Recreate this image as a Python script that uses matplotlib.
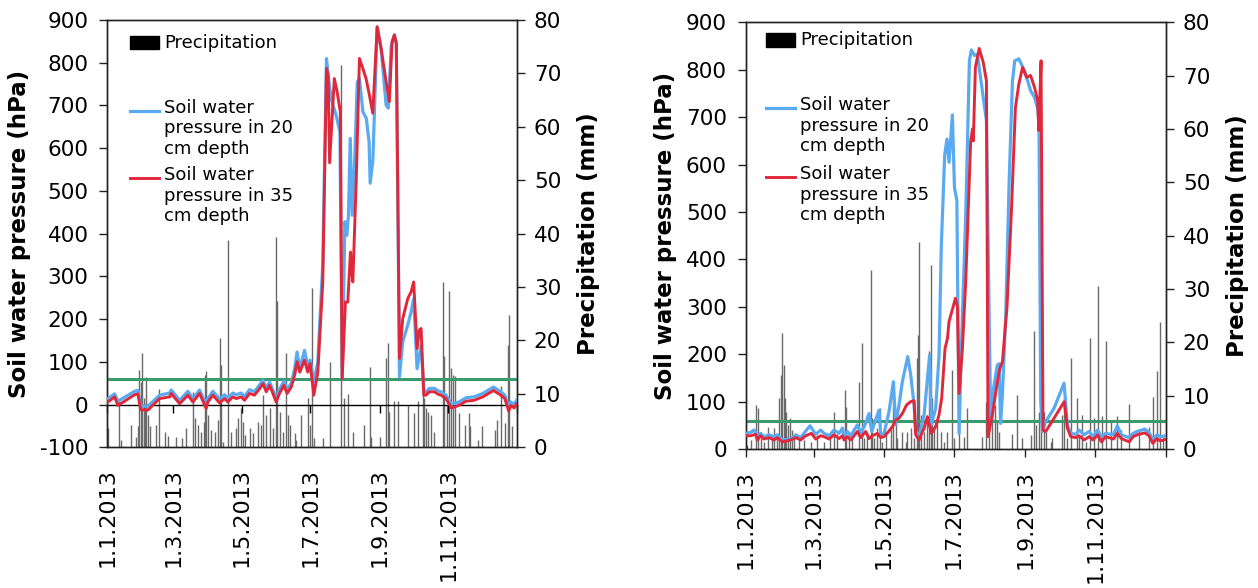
import matplotlib
matplotlib.use('Agg')
import matplotlib.pyplot as plt
from matplotlib.patches import Rectangle

# ---------------- data ----------------
tick_days = [0, 59, 120, 181, 243, 304, 365]
tick_labels = ['1.1.2013', '1.3.2013', '1.5.2013', '1.7.2013', '1.9.2013', '1.11.2013', '']
threshold = 60  # hPa

# left panel: soil water pressure (day of year, hPa)
left_35 = [(0.6, 6), (6.5, 18), (9.5, -2), (24.4, 23), (27.3, 25), (29.7, -12), (36.2, -13), (46.6, 14),
           (55.6, 18), (57, 26), (64.5, 2), (71.9, 22), (76.4, 6), (82.3, 26), (88.2, -9), (89.7, 6),
           (94.2, 22), (100.1, 4), (104.6, 14), (107.5, 6), (112, 18), (115, 14), (119.4, 18), (122.4, 10),
           (126.9, 26), (131.3, 22), (135.8, 37), (138.8, 49), (141.8, 30), (144.7, 45), (147.7, 26),
           (150.6, 6), (153.6, 26), (157.5, 45), (160.4, 26), (164.1, 41), (167.1, 69), (169.3, 100),
           (171.7, 76), (175.9, 104), (178.8, 76), (180.9, 96), (184.2, 22), (187.8, 76), (192.2, 287),
           (195.5, 787), (197.0, 770), (198.3, 566), (202.5, 763), (205, 732), (207.8, 686), (209.5, 61),
           (212.4, 240), (214.5, 240), (216.9, 357), (218.1, 310), (219, 287), (222, 521), (224.9, 810),
           (227.9, 787), (230.8, 763), (233.8, 724), (236.8, 682), (240.7, 884), (244.2, 834), (248.7, 756),
           (251.6, 709), (254, 849), (256.1, 865), (257.8, 845), (260.6, 108), (263.5, 201), (268, 248),
           (271, 264), (273.3, 287), (276.3, 131), (278.4, 175), (279.9, 178), (282.3, 22), (284.3, 22),
           (287.3, 30), (291.7, 30), (295.2, 24), (297.7, 22), (302.1, 14), (306.9, -8), (313.6, -2),
           (320, 8), (327, 10), (335, 18), (344.4, 33), (351, 22), (354.6, 14), (358, -15), (360, -2),
           (363, -8), (365, 2)]

left_20 = [(0.6, 14), (6.5, 25), (9.5, 8), (24.4, 31), (27.3, 33), (29.7, -3), (36.2, -4), (46.6, 22),
           (55.6, 27), (57, 34), (64.5, 10), (71.9, 31), (76.4, 14), (82.3, 34), (88.2, 0), (89.7, 14),
           (94.2, 31), (100.1, 13), (104.6, 23), (107.5, 15), (112, 27), (115, 23), (119.4, 27), (122.4, 19),
           (126.9, 35), (131.3, 30), (135.8, 46), (138.8, 57), (141.8, 38), (144.7, 53), (147.7, 34),
           (150.6, 14), (153.6, 35), (157.5, 55), (160.4, 35), (164.1, 50), (167.1, 84), (169.3, 123),
           (171.7, 84), (175.9, 127), (178.8, 90), (180.9, 104), (184.2, 53), (187.8, 100), (192.2, 330),
           (195.5, 810), (197.5, 760), (199.6, 716), (204.1, 677), (207.5, 638), (209.5, 65), (211.9, 428),
           (213.6, 396), (215.1, 443), (216.7, 623), (218.4, 443), (220.5, 560), (223.0, 755), (224.9, 763),
           (228, 685), (231, 670), (233.5, 615), (234.5, 518), (236.9, 572), (240.7, 884), (244.2, 834),
           (248.7, 701), (250.6, 694), (253.3, 840), (256.1, 865), (257.8, 845), (260.6, 65), (263.5, 147),
           (268, 186), (271, 217), (273.3, 248), (276.3, 84), (279.9, 139), (282.3, 30), (284.3, 30),
           (287.3, 38), (291.7, 38), (295.2, 32), (297.7, 30), (302.1, 22), (306.9, 0), (313.6, 6),
           (320, 16), (327, 18), (335, 26), (344.4, 41), (351, 30), (354.6, 22), (358, -7), (360, 6),
           (363, 0), (365, 10)]

# left panel: precipitation (day of year, mm)
left_rain = [(0.6, 3.7), (10.4, 8.6), (12.5, 1.4), (20.8, 4.2), (25.8, 2), (27.3, 4), (28.2, 14.5),
             (29.7, 12.3), (31.2, 17.7), (32.4, 9.2), (33.3, 7.9), (34.8, 13.2), (36.2, 6), (37.7, 4),
             (43.1, 4.2), (45.8, 11), (51.1, 2.9), (54.1, 2.2), (61.5, 2), (66.8, 1.7), (70.4, 3.6),
             (76.4, 10.4), (77.8, 5.4), (80.8, 4.2), (83.8, 2.9), (85.9, 4.8), (86.8, 13.5), (88.2, 14.2),
             (89.7, 6), (92.7, 3.2), (95.7, 2.9), (98.7, 5.1), (100.1, 20.4), (101.6, 15.4), (103.1, 1),
             (108.1, 38.8), (110.5, 2.9), (115, 3.6), (116.5, 5.5), (119.4, 7.3), (120.9, 4.8), (122.4, 2.3),
             (127.1, 3.6), (130.1, 2.6), (134.5, 4.8), (137.5, 4.2), (139, 9.8), (142, 6), (144.9, 7.3),
             (147.9, 3.6), (150.3, 39.3), (151.5, 27.3), (153.8, 6.7), (156.8, 2.9), (159.8, 17.6),
             (161.3, 6), (162.8, 4.2), (167.2, 2.6), (168.7, 1.4), (173.2, 6), (179.1, 9.2), (180.6, 4.2),
             (183, 29.8), (184.5, 1.7), (192.5, 1.7), (198.5, 16), (208.6, 71.6), (211, 9.2), (215.1, 10),
             (219, 2.9), (229.4, 4.2), (233.9, 15.1), (235.3, 2), (242.8, 2), (248.7, 16.7), (250.2, 19.5),
             (251.7, 6.7), (256.1, 8.6), (259.1, 8.6), (268, 8), (274, 6.4), (276.9, 8.6), (281.4, 14.8),
             (282.9, 9.2), (284.4, 7.3), (285.9, 6.7), (288.8, 6), (291.8, 2.9), (299.2, 31), (300.7, 17),
             (302.8, 7.9), (305.2, 29.2), (306.7, 14.8), (308.6, 13.6), (310.3, 13.3), (313.7, 6.4),
             (318.8, 4.2), (322.2, 6.4), (323.9, 3.9), (330.7, 1.4), (334.1, 3.9), (346.1, 3.2),
             (347.8, 5.1), (351.2, 11.4), (354.6, 4.5), (357.3, 19.2), (358.7, 24.8), (360.7, 3.9)]

# right panel: soil water pressure (day of year, hPa)
right_35 = [(0, 28), (4.3, 28), (8.7, 31), (10.1, 19), (13, 28), (15.9, 21), (20.3, 24), (24.6, 19),
            (27.5, 24), (31.9, 15), (39.1, 19), (43.5, 24), (47.8, 19), (52.2, 28), (57.1, 33), (60.9, 21),
            (65.2, 28), (68.1, 26), (72.5, 21), (76.8, 30), (81.2, 22), (84.1, 28), (85.5, 19), (88.4, 26),
            (91.3, 19), (97.1, 37), (100, 24), (104.3, 37), (107.2, 22), (110.1, 28), (114.5, 33),
            (117.4, 24), (120.3, 26), (124.6, 38), (127.5, 47), (130.4, 61), (133.3, 65), (136.2, 75),
            (139.9, 93), (143.5, 100), (146.4, 102), (147.8, 30), (150.7, 19), (155.1, 44), (158, 68),
            (161.4, 33), (165.2, 47), (168.1, 72), (170.4, 107), (173.3, 212), (175.4, 233), (176.8, 269),
            (180, 297), (182.3, 318), (184.1, 300), (185.5, 117), (188.4, 212), (191.3, 353), (195.6, 650),
            (197.2, 675), (197.9, 650), (199.7, 805), (203, 845), (206.5, 816), (209.3, 777), (210.7, 26),
            (214.5, 72), (218.8, 142), (221, 170), (223.2, 184), (227.2, 300), (231, 500), (234.5, 720),
            (237.5, 770), (240.7, 805), (244.3, 784), (247.7, 788), (251.1, 763), (253.9, 735),
            (254.8, 672), (256.8, 819), (258.5, 40), (260.9, 37), (268.1, 65), (277, 100), (279.7, 44),
            (282.6, 26), (287, 24), (289.9, 28), (294.2, 19), (298.6, 26), (302, 19), (306, 30),
            (309.4, 15), (312.9, 26), (319.7, 21), (323.1, 33), (326.6, 22), (333.4, 15), (336.8, 26),
            (340.3, 30), (347.1, 34), (350.6, 28), (354, 12), (357.5, 22), (360.5, 17), (365, 20)]

right_20 = [(0, 33), (4.3, 35), (7.2, 40), (10.1, 28), (13, 33), (15.9, 26), (20.3, 30), (24.6, 26),
            (27.5, 30), (31.9, 19), (39.1, 21), (43.5, 30), (47.8, 24), (52.2, 38), (55.9, 49), (60.9, 31),
            (65.2, 40), (68.1, 33), (72.5, 28), (76.8, 40), (81.2, 33), (84.1, 44), (85.5, 26), (88.4, 37),
            (91.3, 28), (97.1, 51), (100, 33), (104.3, 54), (107.2, 75), (109.6, 37), (114.5, 72),
            (116, 82), (117.4, 30), (120.3, 33), (124.6, 79), (128.4, 142), (130.4, 51), (133.3, 93),
            (136.2, 142), (140.9, 195), (143.5, 156), (146.4, 93), (147.8, 37), (150.7, 26), (155.1, 72),
            (159.9, 198), (161.4, 51), (165.2, 86), (168.1, 198), (170, 423), (173, 620), (175, 654),
            (176.8, 605), (179.7, 705), (181.5, 552), (183.6, 524), (185.5, 33), (188.4, 283), (191.3, 494),
            (194.5, 819), (196.2, 842), (199, 830), (201.4, 833), (206.5, 742), (209.3, 693), (213, 58),
            (214.5, 114), (218.8, 177), (220.3, 180), (221.6, 54), (223.2, 114), (226.1, 283), (229, 560),
            (231.9, 775), (233.9, 819), (237.4, 823), (242.5, 798), (247.7, 756), (251.1, 742),
            (253.9, 717), (255, 690), (256.5, 100), (258, 37), (260.9, 58), (268.1, 86), (276.8, 139),
            (279.7, 51), (282.6, 33), (287, 31), (289.9, 40), (294.2, 30), (298.6, 37), (302, 26), (306, 40),
            (309.4, 24), (312.9, 33), (319.7, 30), (323.1, 49), (326.6, 30), (333.4, 24), (336.8, 33),
            (340.3, 37), (347.1, 42), (350.6, 35), (354, 20), (357.5, 30), (360.5, 26), (365, 28)]

right_rain = [(1.4, 0.8), (4.3, 1.7), (9.3, 8.3), (10.7, 7.6), (13, 2), (15.9, 1.4), (19.7, 4.2),
              (23.2, 2.6), (24.6, 3.9), (27.5, 2.3), (29, 9.5), (30.4, 13.9), (31.9, 21.7), (33.3, 15.8),
              (34.2, 9.5), (35.4, 7), (36.8, 4.5), (38.3, 5.8), (40.6, 3.6), (42, 2), (46.4, 2.3),
              (50.7, 1.7), (56.5, 1.4), (62.3, 2.6), (68.1, 1.4), (73.3, 2), (76.8, 7), (79.7, 2.9),
              (86.1, 11), (87.5, 7.9), (89.5, 3.2), (92.8, 2), (98.6, 12.6), (100.9, 19.8), (102.9, 2),
              (105.8, 3.2), (108.7, 33.6), (110.1, 5.8), (111.6, 2), (114.5, 3.9), (116.8, 7.6), (118.8, 1.4),
              (121.7, 3.2), (126.1, 3.9), (128.4, 12.6), (130.4, 5.1), (131.9, 2), (136.2, 3.2), (139.1, 1.4),
              (140.6, 3.2), (143.5, 3.9), (146.4, 2), (148.7, 17), (149.9, 21.4), (151, 38.9), (152.2, 6.4),
              (155.1, 3.2), (158, 6.4), (159.4, 18.3), (160.9, 34.5), (162.3, 9.5), (163.8, 4.5),
              (166.7, 5.1), (169.6, 3.2), (172.5, 1.4), (175.4, 3.2), (179.7, 14.8), (181.2, 2), (185.5, 6.4),
              (189.9, 2.3), (192.8, 7.6), (205.8, 2.3), (208.7, 8.9), (211.6, 5.1), (214.5, 10.1),
              (216.5, 8.3), (218.8, 5.1), (220.3, 3.2), (231.9, 2.9), (235.7, 10.1), (240.6, 2), (247.8, 2.6),
              (250.7, 22.1), (252.2, 4.5), (255.1, 7), (257.1, 6.4), (259.4, 7), (260.9, 3.2), (265.2, 1.4),
              (266.7, 2), (274.6, 6.4), (276.8, 9.5), (279.7, 2), (282.6, 17.1), (287.8, 9.6), (289.9, 2.6),
              (292.8, 6.4), (295.7, 1.4), (299.1, 20.8), (302.5, 5.9), (306.7, 30.6), (309.4, 6.1),
              (312.9, 20.3), (318, 5.5), (323.1, 6.1), (326.6, 3.6), (333.4, 8.5), (342, 3.6), (350.6, 4.2),
              (354, 9.8), (357.5, 14.7), (360.2, 23.8), (362.6, 2.3)]

label_precip = 'Precipitation'
label_20 = 'Soil water\npressure in 20\ncm depth'
label_35 = 'Soil water\npressure in 35\ncm depth'
ylabel_left = 'Soil water pressure (hPa)'
ylabel_right = 'Precipitation (mm)'

# ---------------- style ----------------
BLUE = '#5aaaf2'
RED = '#e0283a'
GREEN = '#3a9a6c'
BAR = '#6a6a6a'
TICK_FS = 15.5
LAB_FS = 16.5
LEG_FS = 13

plt.rcParams['font.family'] = ['DejaVu Sans']
plt.rcParams['axes.unicode_minus'] = False

W, H = 1258, 588
fig = plt.figure(figsize=(W / 100, H / 100), dpi=100)


def panel(px_left, px_top, px_w, px_h, ylim, yticks, s20, s35, rain, zero_axis, xpad,
          leg, ylab_x, ylab2_x):
    ax = fig.add_axes([px_left / W, 1 - (px_top + px_h) / H, px_w / W, px_h / H])
    ax2 = ax.twinx()
    ax.set_zorder(ax2.get_zorder() + 1)
    ax.patch.set_visible(False)

    # precipitation bars
    rd, rv = zip(*rain)
    ax2.vlines(rd, 0, rv, color=BAR, lw=1.0)
    ax2.set_ylim(0, 80)
    ax2.set_yticks(range(0, 81, 10))

    # threshold and soil water pressure lines
    ax.axhline(threshold, color=GREEN, lw=2.2, zorder=2)
    d20, v20 = zip(*s20)
    d35, v35 = zip(*s35)
    ax.plot(d20, v20, color=BLUE, lw=2.3, zorder=3, solid_joinstyle='round')
    ax.plot(d35, v35, color=RED, lw=2.1, zorder=4, solid_joinstyle='round')

    ax.set_xlim(0, 365)
    ax.set_ylim(*ylim)
    ax.set_yticks(yticks)
    ax.set_xticks(tick_days)
    ax.set_xticklabels(tick_labels, rotation=90, fontsize=16)

    for a in (ax, ax2):
        for s in a.spines.values():
            s.set_color('#222222')
            s.set_linewidth(1.0)
    ax.tick_params(axis='y', labelsize=TICK_FS, length=5.5, width=1, pad=8, colors='#222222',
                   labelcolor='black')
    ax2.tick_params(axis='y', labelsize=TICK_FS, length=5.5, width=1, pad=7, colors='#222222',
                    labelcolor='black')

    if zero_axis:
        ax.tick_params(axis='x', length=0, pad=xpad)
        sec = ax.secondary_xaxis((0 - ylim[0]) / (ylim[1] - ylim[0]))
        sec.set_xticks(tick_days)
        sec.set_xticklabels([''] * len(tick_days))
        sec.tick_params(axis='x', length=5.5, width=1, direction='out', colors='black')
        sec.spines['bottom'].set_color('black')
        sec.spines['bottom'].set_linewidth(1.0)
    else:
        ax.tick_params(axis='x', length=5.5, width=1, pad=xpad, colors='#222222', labelcolor='black')

    ax.set_ylabel(ylabel_left, fontsize=LAB_FS, fontweight='bold')
    ax.yaxis.set_label_coords(ylab_x, 0.5)
    ax2.set_ylabel(ylabel_right, fontsize=LAB_FS, fontweight='bold')
    ax2.yaxis.set_label_coords(ylab2_x, 0.5)

    # legend (drawn in axes fraction)
    (lx0, lx1, ptop, pbot, tx, ty_p, yb, yr) = leg
    ax.add_patch(Rectangle((lx0, pbot), lx1 - lx0, ptop - pbot, transform=ax.transAxes,
                           color='black', zorder=6, clip_on=False))
    ax.text(tx, ty_p, label_precip, transform=ax.transAxes, fontsize=LEG_FS, va='center',
            ha='left', zorder=6)
    ax.plot([lx0, lx1], [yb, yb], transform=ax.transAxes, color=BLUE, lw=2.3, zorder=6)
    ax.plot([lx0, lx1], [yr, yr], transform=ax.transAxes, color=RED, lw=2.1, zorder=6)
    lh = 21.7 / px_h
    ax.text(tx, yb + 0.55 * lh, label_20, transform=ax.transAxes, fontsize=LEG_FS, va='top',
            ha='left', linespacing=1.17, zorder=6)
    ax.text(tx, yr + 0.55 * lh, label_35, transform=ax.transAxes, fontsize=LEG_FS, va='top',
            ha='left', linespacing=1.17, zorder=6)
    return ax, ax2


# left panel
panel(107.3, 20, 409.2, 427.3, (-100, 900), range(-100, 901, 100), left_20, left_35, left_rain,
      True, 15,
      (0.0547, 0.1256, 0.9633, 0.9321, 0.1386, 0.9473, 0.787, 0.6295), -0.187, 1.148)

# right panel
panel(745.7, 22.4, 419.8, 426.6, (0, 900), range(0, 901, 100), right_20, right_35, right_rain,
      False, 9.5,
      (0.0476, 0.1167, 0.9744, 0.9416, 0.1293, 0.958, 0.7986, 0.637), -0.163, 1.144)

fig.savefig('out.png', dpi=100)
